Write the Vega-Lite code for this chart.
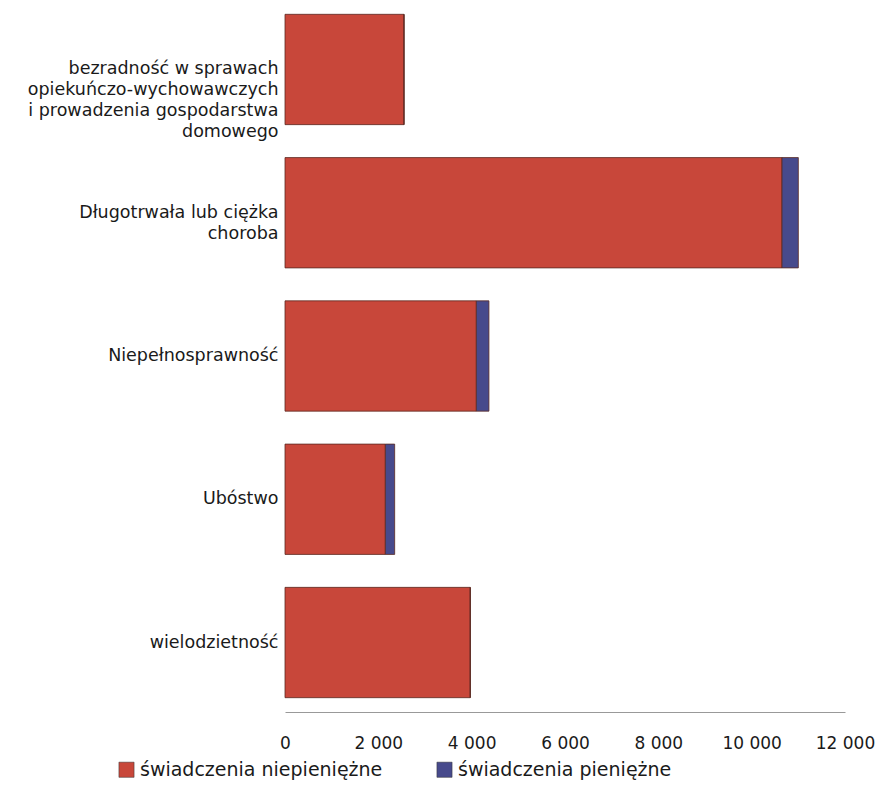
{
  "$schema": "https://vega.github.io/schema/vega-lite/v6.json",
  "width": 560,
  "height": 712,
  "padding": {"left": 0, "top": 0, "right": 0, "bottom": 0},
  "autosize": {"type": "pad"},
  "background": "white",
  "config": {
    "locale": {"number": {"decimal": ",", "thousands": " ", "grouping": [3], "currency": ["", " zł"]}},
    "font": "DejaVu Sans",
    "view": {"stroke": null}
  },
  "data": {
    "values": [
      {"kategoria": "bezradność w sprawach|opiekuńczo-wychowawczych|i prowadzenia gospodarstwa|domowego", "rodzaj": "świadczenia niepieniężne", "kolejnosc": 1, "wartosc": 2550},
      {"kategoria": "bezradność w sprawach|opiekuńczo-wychowawczych|i prowadzenia gospodarstwa|domowego", "rodzaj": "świadczenia pieniężne", "kolejnosc": 2, "wartosc": 0},
      {"kategoria": "Długotrwała lub ciężka|choroba", "rodzaj": "świadczenia niepieniężne", "kolejnosc": 1, "wartosc": 10650},
      {"kategoria": "Długotrwała lub ciężka|choroba", "rodzaj": "świadczenia pieniężne", "kolejnosc": 2, "wartosc": 350},
      {"kategoria": "Niepełnosprawność", "rodzaj": "świadczenia niepieniężne", "kolejnosc": 1, "wartosc": 4100},
      {"kategoria": "Niepełnosprawność", "rodzaj": "świadczenia pieniężne", "kolejnosc": 2, "wartosc": 270},
      {"kategoria": "Ubóstwo", "rodzaj": "świadczenia niepieniężne", "kolejnosc": 1, "wartosc": 2150},
      {"kategoria": "Ubóstwo", "rodzaj": "świadczenia pieniężne", "kolejnosc": 2, "wartosc": 200},
      {"kategoria": "wielodzietność", "rodzaj": "świadczenia niepieniężne", "kolejnosc": 1, "wartosc": 3970},
      {"kategoria": "wielodzietność", "rodzaj": "świadczenia pieniężne", "kolejnosc": 2, "wartosc": 0}
    ]
  },
  "mark": {"type": "bar", "stroke": "#5a2a22", "strokeWidth": 0.8},
  "encoding": {
    "y": {
      "field": "kategoria",
      "type": "nominal",
      "sort": null,
      "scale": {"paddingInner": 0.23, "paddingOuter": 0.1},
      "axis": {
        "title": null,
        "domain": false,
        "ticks": false,
        "labelPadding": 7,
        "minExtent": 285,
        "maxExtent": 285,
        "labelExpr": "split(datum.label, '|')",
        "labelFontSize": 17.5,
        "labelColor": "#1a1a1a",
        "labelLineHeight": 21,
        "labelLimit": 400
      }
    },
    "x": {
      "field": "wartosc",
      "type": "quantitative",
      "stack": "zero",
      "scale": {"domain": [0, 12000], "nice": false},
      "axis": {
        "title": null,
        "grid": false,
        "ticks": false,
        "values": [0, 2000, 4000, 6000, 8000, 10000, 12000],
        "format": ",d",
        "domainColor": "#999999",
        "labelPadding": 23,
        "labelFlush": false,
        "labelOverlap": false,
        "labelFontSize": 17,
        "labelColor": "#1a1a1a"
      }
    },
    "color": {
      "field": "rodzaj",
      "type": "nominal",
      "scale": {"domain": ["świadczenia niepieniężne", "świadczenia pieniężne"], "range": ["#c8473a", "#474a8c"]},
      "legend": {
        "title": null,
        "orient": "none",
        "direction": "horizontal",
        "legendX": -168,
        "legendY": 760,
        "symbolType": "square",
        "symbolSize": 230,
        "symbolStrokeColor": "#333333",
        "symbolStrokeWidth": 0.5,
        "labelFontSize": 19,
        "labelColor": "#1a1a1a",
        "columnPadding": 52,
        "labelLimit": 400
      }
    },
    "order": {"field": "kolejnosc", "type": "quantitative"}
  }
}
